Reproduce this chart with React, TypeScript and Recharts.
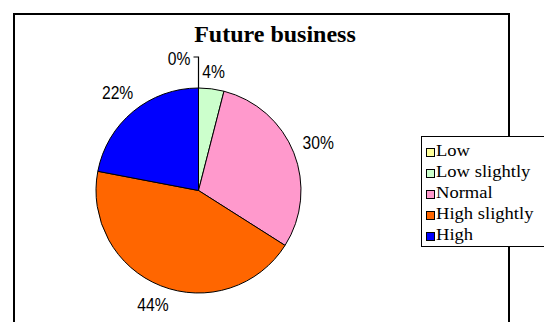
import { PieChart, Pie, Cell, Legend } from 'recharts';

const categories = ['Low', 'Low slightly', 'Normal', 'High slightly', 'High'];
const shares = [0, 4, 30, 44, 22];
const sliceColors = ['#FFFF99', '#CCFFCC', '#FF99CC', '#FF6600', '#0000FF'];

const data = categories.map((name, i) => ({ name, value: shares[i] }));

const RAD = Math.PI / 180;
const labelFont = '"Liberation Sans", Arial, sans-serif';

// labels in the original use a narrow face, so squeeze them a little
const Narrow = ({ x, y, anchor, text }: { x: number; y: number; anchor: string; text: string }) => (
  <text
    transform={`translate(${x},${y}) scale(0.87,1)`}
    x={0}
    y={0}
    textAnchor={anchor as any}
    dominantBaseline="central"
    fontFamily={labelFont}
    fontSize={18}
    fill="#000"
  >
    {text}
  </text>
);

const renderLabel = (props: any) => {
  const { cx, cy, midAngle, outerRadius, value, index } = props;
  const text = `${value}%`;
  if (value === 0) {
    // zero slice: leader line straight up, text to the left
    const top = cy - outerRadius;
    const yy = top - 31;
    return (
      <g key={`lbl-${index}`}>
        <path d={`M${cx},${top} L${cx},${yy} L${cx - 5},${yy}`} stroke="#000" strokeWidth={1.2} fill="none" />
        <Narrow x={cx - 8} y={yy + 2} anchor="end" text={text} />
      </g>
    );
  }
  const cos = Math.cos(-midAngle * RAD);
  const sin = Math.sin(-midAngle * RAD);
  const w = text.length * 10.5;
  const h = 14;
  const d = outerRadius + 9 + Math.abs(cos) * w / 2 + Math.abs(sin) * h / 2;
  return <Narrow key={`lbl-${index}`} x={cx + d * cos} y={cy + d * sin} anchor="middle" text={text} />;
};

const LegendBox = () => (
  <div
    style={{
      width: 130,
      height: 111,
      boxSizing: 'border-box',
      background: '#fff',
      borderTop: '1.5px solid #000',
      borderLeft: '1.5px solid #000',
      borderBottom: '1.5px solid #000',
      paddingTop: 3,
      fontFamily: '"Liberation Serif", "Times New Roman", serif',
      fontSize: 16,
      color: '#000',
    }}
  >
    {categories.map((c, i) => (
      <div key={c} style={{ height: 21, display: 'flex', alignItems: 'center' }}>
        <span
          style={{
            display: 'inline-block',
            width: 7,
            height: 7,
            marginLeft: 4,
            marginTop: 4,
            border: '1px solid #000',
            background: sliceColors[i],
          }}
        />
        <span style={{ display: 'inline-block', marginLeft: 1, transform: 'scaleX(1.16)', transformOrigin: 'left center', whiteSpace: 'nowrap' }}>
          {c}
        </span>
      </div>
    ))}
  </div>
);

export default function App() {
  return (
    <div style={{ position: 'absolute', left: 0, top: 0, width: 544, height: 322, background: '#fff', overflow: 'hidden' }}>
      <div
        style={{
          position: 'absolute',
          left: 13,
          top: 13,
          width: 497,
          height: 330,
          boxSizing: 'border-box',
          border: '2px solid #000',
        }}
      />
      <div
        style={{
          position: 'absolute',
          left: 0,
          top: 20,
          width: 550,
          textAlign: 'center',
          fontFamily: '"Liberation Serif", "Times New Roman", serif',
          fontWeight: 'bold',
          fontSize: 24,
          lineHeight: '28px',
          color: '#000',
        }}
      >
        Future business
      </div>
      <div style={{ position: 'absolute', left: 0, top: 0 }}>
        <PieChart width={544} height={322} margin={{ top: 0, right: 0, bottom: 0, left: 0 }}>
          <Pie
            data={data}
            dataKey="value"
            nameKey="name"
            cx={198.5}
            cy={190.5}
            outerRadius={102.5}
            startAngle={90}
            endAngle={-270}
            stroke="#000"
            strokeWidth={1}
            label={renderLabel}
            labelLine={false}
            isAnimationActive={false}
          >
            {data.map((d, i) => (
              <Cell key={d.name} fill={sliceColors[i]} />
            ))}
          </Pie>
          <Legend
            content={() => <LegendBox />}
            wrapperStyle={{ position: 'absolute', left: 421, top: 136, width: 130 }}
          />
        </PieChart>
      </div>
    </div>
  );
}
